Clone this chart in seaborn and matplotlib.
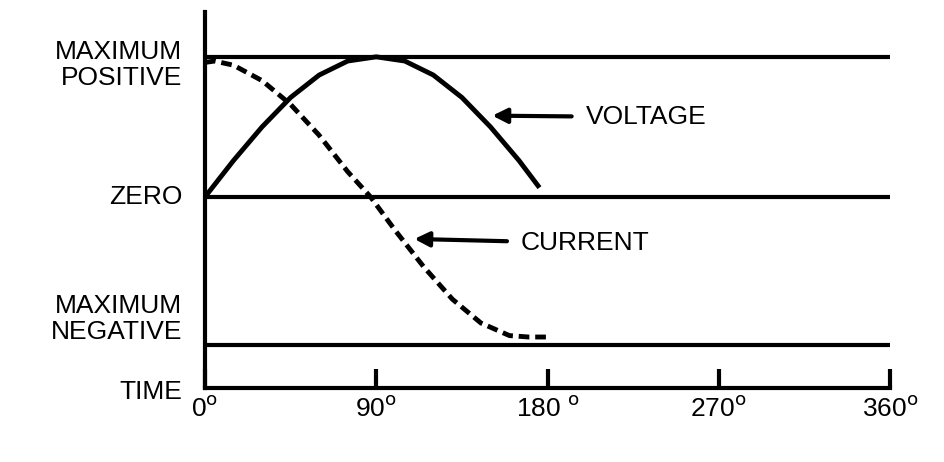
import matplotlib
matplotlib.use("Agg")
import matplotlib.pyplot as plt
import seaborn as sns
import pandas as pd

# data (degrees, level: +1 max positive, 0 zero, -1 max negative)
volt_deg = [0, 15, 30, 45, 60, 75, 90, 105, 120, 135, 150, 165, 175]
volt_val = [0.0, 0.26, 0.5, 0.71, 0.87, 0.97, 1.0, 0.97, 0.87, 0.71, 0.5, 0.26, 0.08]
curr_deg = [0, 5, 15, 30, 45, 60, 75, 87, 100, 115, 130, 145, 160, 170, 180]
curr_val = [0.96, 0.97, 0.94, 0.83, 0.66, 0.44, 0.18, 0.0, -0.24, -0.5, -0.73, -0.9, -0.99, -1.0, -1.0]
level_pos = [1.0, 0.0, -1.057]
level_names = ["MAXIMUM\nPOSITIVE", "ZERO", "MAXIMUM\nNEGATIVE", "TIME"]
level_text_y = [0.94, 0.0, -0.87, -1.39]
tick_deg = [0, 90, 180, 270, 360]
tick_text = ["0$^{\\rm o}$", "90$^{\\rm o}$", "180 $^{\\rm o}$", "270$^{\\rm o}$", "360$^{\\rm o}$"]

plt.rcParams["font.family"] = "Liberation Sans"
fig = plt.figure(figsize=(9.44, 4.62), dpi=100)
ax = fig.add_axes([205/944, 1 - 388/462, (890-205)/944, (388-12)/462])
ax.set_xlim(0, 360)
ax.set_ylim(-1.364, 1.32)

for y in level_pos:
    ax.axhline(y, color="black", lw=3, xmin=0, xmax=1)

dv = pd.DataFrame({"deg": volt_deg, "val": volt_val})
dc = pd.DataFrame({"deg": curr_deg, "val": curr_val})
sns.lineplot(data=dv, x="deg", y="val", ax=ax, color="black", lw=3.5, sort=False)
sns.lineplot(data=dc, x="deg", y="val", ax=ax, color="black", lw=3.5, sort=False,
             linestyle=(0, (2.2, 1.2)))

for s in ["top", "right"]:
    ax.spines[s].set_visible(False)
for s in ["left", "bottom"]:
    ax.spines[s].set_linewidth(3)
ax.set_xlabel("")
ax.set_ylabel("")
ax.set_yticks([])
ax.set_xticks(tick_deg)
ax.set_xticklabels(tick_text, fontsize=19)
ax.tick_params(axis="x", direction="in", length=14, width=3, pad=6)

for name, y in zip(level_names, level_text_y):
    ax.text(-12, y, name, ha="right", va="center", fontsize=19, linespacing=1.1)

ax.annotate("VOLTAGE", xy=(151, 0.58), xytext=(200, 0.57), fontsize=19, va="center",
            arrowprops=dict(arrowstyle="-|>", color="black", lw=3, mutation_scale=22,
                            shrinkA=8, shrinkB=0))
ax.annotate("CURRENT", xy=(110, -0.3), xytext=(166, -0.33), fontsize=19, va="center",
            arrowprops=dict(arrowstyle="-|>", color="black", lw=3, mutation_scale=22,
                            shrinkA=8, shrinkB=0))

fig.savefig("out.png", dpi=100)
